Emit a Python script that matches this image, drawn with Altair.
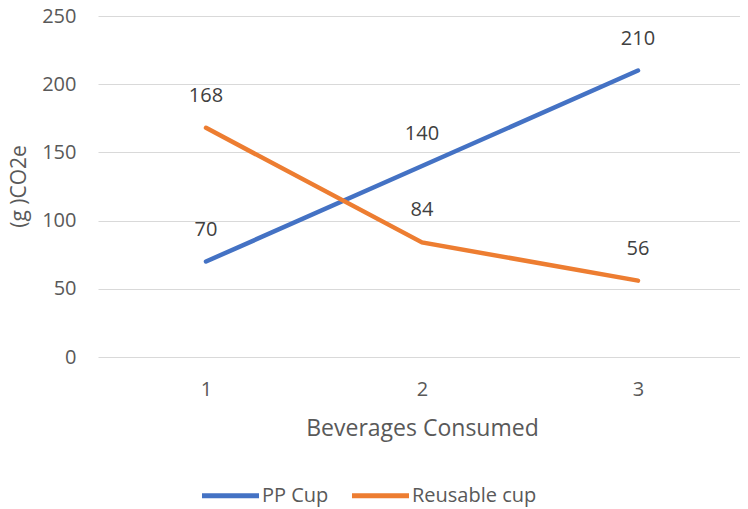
import altair as alt
import pandas as pd

beverages = [1, 2, 3]
pp_cup = [70, 140, 210]
reusable_cup = [168, 84, 56]
series_names = ["PP Cup", "Reusable cup"]
colors = ["#4472C4", "#ED7D31"]

rows = []
for b, v in zip(beverages, pp_cup):
    rows.append({"Beverages": b, "value": v, "series": series_names[0]})
for b, v in zip(beverages, reusable_cup):
    rows.append({"Beverages": b, "value": v, "series": series_names[1]})
df = pd.DataFrame(rows)

FONT = "Open Sans"
xscale = alt.Scale(type="point", padding=0.5, range=[0, 648])

x = alt.X("Beverages:O", scale=xscale,
          axis=alt.Axis(title="Beverages Consumed", labelAngle=0, ticks=False,
                        domain=False, grid=False, labelPadding=22,
                        labelFontSize=20, labelColor="#595959", labelFont=FONT,
                        titleFontSize=23, titleColor="#595959", titleFont=FONT,
                        titleFontWeight="normal", titleX=324, titleY=71,
                        titleBaseline="middle"))
y = alt.Y("value:Q", scale=alt.Scale(domain=[0, 250], nice=False),
          axis=alt.Axis(title="(g )CO2e", values=[0, 50, 100, 150, 200, 250],
                        ticks=False, domain=False, grid=True, gridColor="#D9D9D9",
                        gridWidth=1, labelPadding=22, labelFontSize=20,
                        labelColor="#595959", labelFont=FONT,
                        titleFontSize=21, titleColor="#595959", titleFont=FONT,
                        titleFontWeight="normal", titleX=-79, titleY=170,
                        titleBaseline="middle", titleAngle=270))
color = alt.Color("series:N", scale=alt.Scale(domain=series_names, range=colors),
                  legend=alt.Legend(title=None, orient="none", direction="horizontal",
                                    legendX=101, legendY=448, symbolType="stroke",
                                    symbolStrokeWidth=5, symbolSize=3250,
                                    labelFontSize=20, labelColor="#595959",
                                    labelFont=FONT, labelOffset=0, columnPadding=12))

base = alt.Chart(df)
lines = base.mark_line(strokeWidth=4.5, strokeCap="round").encode(x=x, y=y, color=color)
labels = base.mark_text(dy=-32, fontSize=20, font=FONT, color="#404040").encode(
    x=alt.X("Beverages:O", scale=xscale),
    y="value:Q",
    text="value:Q",
)

chart = alt.layer(lines, labels).properties(
    width=642, height=341,
    autosize=alt.AutoSizeParams(type="none"),
    padding={"left": 90, "top": 8, "right": 0, "bottom": 151},
).configure_view(stroke=None)

chart.save("out.html", embed_options={"renderer": "svg", "actions": False})
